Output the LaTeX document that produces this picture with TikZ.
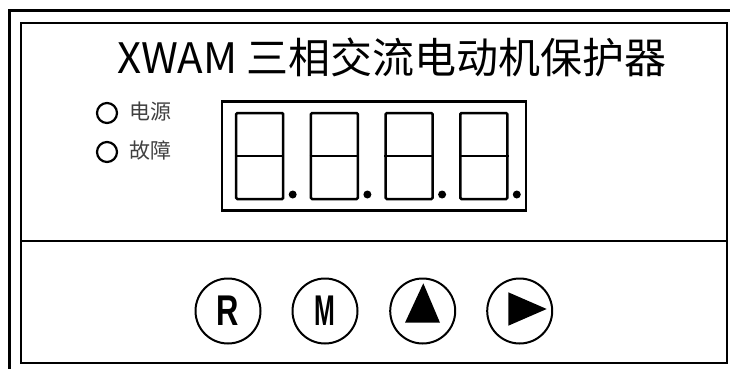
\documentclass[tikz,border=0pt]{standalone}
\usepackage{fontspec}
\setmainfont{Liberation Sans}
\newfontfamily\cjk{Noto Sans CJK SC}
\usetikzlibrary{positioning}
\tikzset{
  frameline/.style={line width=2.6pt},
  digitbox/.style={draw,line width=2.5pt,rounded corners=1.2pt,minimum width=47pt,minimum height=86pt,inner sep=0pt},
  dpdot/.style={fill=black,circle,inner sep=0pt,minimum size=8pt},
  ledring/.style={draw,circle,line width=2.2pt,inner sep=0pt,minimum size=20pt},
  ledtext/.style={font=\cjk\fontsize{21pt}{23pt}\selectfont,text=black!75,anchor=west,inner sep=0pt},
  keyring/.style={draw,circle,line width=2pt,inner sep=0pt,minimum size=65pt},
  keyletter/.style={font=\bfseries\fontsize{43pt}{45pt}\selectfont,inner sep=0pt}
}
\begin{document}
\begin{tikzpicture}[x=1pt,y=-1pt]
\useasboundingbox (0,0) rectangle (730,369);
% outer frame (cropped)
\coordinate (oTR) at (731,10.5);
\coordinate (oTL) at (9,10.5);
\coordinate (oBL) at (9,370);
\draw[frameline,line width=3pt] (oTR) -- (oTL) -- (oBL);
% inner frame
\node[draw,frameline,minimum width=706pt,minimum height=340pt,inner sep=0pt] (panel) at (374,193) {};
\coordinate (divL) at (21,241);
\coordinate (divR) at (727,241);
\draw[frameline] (divL) -- (divR);
% title
\node[font=\cjk\fontsize{42pt}{46pt}\selectfont,inner sep=0pt] (title) at (392,57) {XWAM 三相交流电动机保护器};
% LEDs
\node[ledring] (led1) at (107,113) {};
\node[ledring] (led2) at (107,152) {};
\node[ledtext] (lab1) at (129,111.5) {电源};
\node[ledtext] (lab2) at (129,150.5) {故障};
% display
\node[draw,line width=2.2pt,minimum width=304pt,minimum height=109pt,inner sep=0pt] (display) at (374,156) {};
\foreach \i in {0,1,2,3}{
  \node[digitbox] (dig\i) at ({259.7+74.7*\i},156) {};
  \draw[line width=2.5pt] (dig\i.west) -- (dig\i.east);
  \node[dpdot] (dp\i) at ({292.7+74.7*\i},194.5) {};
}
% keys
\node[keyring] (keyR) at (228,311) {};
\node[keyring] (keyM) at (325,311) {};
\node[keyring] (keyU) at (422.7,311) {};
\node[keyring] (keyG) at (519.7,311) {};
\node[keyletter] (txtR) at (keyR.center) {\scalebox{0.72}[1]{R}};
\node[keyletter] (txtM) at (keyM.center) {\scalebox{0.58}[1]{M}};
\fill (423.3,283.3) -- (440,322.7) -- (405,322.7) -- cycle;
\fill (508.3,292.3) -- (546.7,309) -- (508.3,325.7) -- cycle;
\end{tikzpicture}
\end{document}
